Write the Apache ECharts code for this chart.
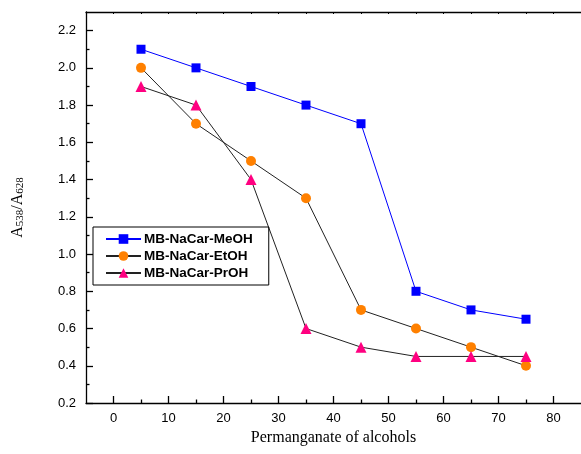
<!DOCTYPE html>
<html>
<head>
<meta charset="utf-8">
<script src="https://cdn.jsdelivr.net/npm/echarts@6/dist/echarts.min.js"></script>
<style>
  html, body { margin: 0; padding: 0; background: #fff; }
  #chart { width: 581px; height: 454px; }
</style>
</head>
<body>
<div id="chart"></div>
<script>
// Absorbance ratio A538/A628 against alcohol proportion
const xValues = [5, 15, 25, 35, 45, 55, 65, 75];
const meohValues = [2.1, 2.0, 1.9, 1.8, 1.7, 0.8, 0.7, 0.65];
const etohValues = [2.0, 1.7, 1.5, 1.3, 0.7, 0.6, 0.5, 0.4];
const prohValues = [1.9, 1.8, 1.4, 0.6, 0.5, 0.45, 0.45, 0.45];
const seriesNames = ['MB-NaCar-MeOH', 'MB-NaCar-EtOH', 'MB-NaCar-PrOH'];
const xTickLabels = [0, 10, 20, 30, 40, 50, 60, 70, 80];
const xMinorTicks = [5, 15, 25, 35, 45, 55, 65, 75];
const xTopTicks = [0, 5, 10, 15, 20, 25, 30, 35, 40, 45, 50, 55, 60, 65, 70, 75, 80];
const yTickLabels = [0.2, 0.4, 0.6, 0.8, 1.0, 1.2, 1.4, 1.6, 1.8, 2.0, 2.2];
const yMinorTicks = [0.3, 0.5, 0.7, 0.9, 1.1, 1.3, 1.5, 1.7, 1.9, 2.1];

const pair = vals => xValues.map((x, i) => [x, vals[i]]);
const tickFont = { fontFamily: 'Liberation Sans, Arial, sans-serif', fontSize: 13, color: '#000' };
const axisLineStyle = { color: '#000', width: 1.3 };
const serif = 'Liberation Serif, Times New Roman, serif';

const chart = echarts.init(document.getElementById('chart'), null, { renderer: 'canvas' });

chart.setOption({
  animation: false,
  backgroundColor: '#fff',
  grid: { left: 86, top: 12, width: 497, height: 391 },
  legend: {
    orient: 'vertical',
    left: 93,
    top: 227,
    padding: [5, 16, 5, 12],
    itemGap: 3,
    itemWidth: 35,
    itemHeight: 12,
    borderColor: '#000',
    borderWidth: 1,
    data: seriesNames,
    textStyle: {
      fontFamily: 'Liberation Sans, Arial, sans-serif',
      fontWeight: 'bold',
      fontSize: 13.5,
      color: '#000',
      lineHeight: 14,
      padding: [0, 0, 0, -2]
    }
  },
  xAxis: [
    {
      type: 'value', min: -5, max: 85, position: 'bottom',
      name: 'Permanganate of alcohols', nameLocation: 'middle', nameGap: 27,
      nameTextStyle: { fontFamily: serif, fontSize: 16, color: '#000' },
      axisLine: { show: true, onZero: false, lineStyle: axisLineStyle },
      axisTick: { show: true, inside: true, length: 7, customValues: xTickLabels, lineStyle: { color: '#000', width: 1.3 } },
      axisLabel: { show: true, margin: 9, customValues: xTickLabels, ...tickFont },
      splitLine: { show: false }
    },
    {
      type: 'value', min: -5, max: 85, position: 'bottom',
      axisLine: { show: false, onZero: false },
      axisTick: { show: true, inside: true, length: 3.5, customValues: xMinorTicks, lineStyle: { color: '#000', width: 1.3 } },
      axisLabel: { show: false },
      splitLine: { show: false }
    },
    {
      type: 'value', min: -5, max: 85, position: 'top',
      axisLine: { show: true, onZero: false, lineStyle: axisLineStyle },
      axisTick: { show: true, inside: true, length: 2, customValues: xTopTicks, lineStyle: { color: '#000', width: 1 } },
      axisLabel: { show: false },
      splitLine: { show: false }
    }
  ],
  yAxis: [
    {
      type: 'value', min: 0.2, max: 2.3, position: 'left',
      name: '{a|A}{s|538}{a|/A}{s|628}', nameLocation: 'middle', nameGap: 60, nameRotate: 90,
      nameTextStyle: {
        rich: {
          a: { fontFamily: serif, fontSize: 16, color: '#000', verticalAlign: 'bottom', lineHeight: 20 },
          s: { fontFamily: serif, fontSize: 11, color: '#000', verticalAlign: 'bottom', lineHeight: 16 }
        }
      },
      axisLine: { show: true, onZero: false, lineStyle: axisLineStyle },
      axisTick: { show: true, inside: true, length: 7, customValues: yTickLabels, lineStyle: { color: '#000', width: 1.3 } },
      axisLabel: { show: true, margin: 10, customValues: yTickLabels, formatter: v => v.toFixed(1), ...tickFont },
      splitLine: { show: false }
    },
    {
      type: 'value', min: 0.2, max: 2.3, position: 'left',
      axisLine: { show: false, onZero: false },
      axisTick: { show: true, inside: true, length: 3.5, customValues: yMinorTicks, lineStyle: { color: '#000', width: 1.3 } },
      axisLabel: { show: false },
      splitLine: { show: false }
    }
  ],
  series: [
    {
      name: seriesNames[0], type: 'line', data: pair(meohValues),
      symbol: 'rect', symbolSize: 9,
      lineStyle: { color: '#0000ff', width: 1 },
      itemStyle: { color: '#0000ff' }
    },
    {
      name: seriesNames[1], type: 'line', data: pair(etohValues),
      symbol: 'circle', symbolSize: 10,
      lineStyle: { color: '#222', width: 1 },
      itemStyle: { color: '#ff8000' }
    },
    {
      name: seriesNames[2], type: 'line', data: pair(prohValues),
      symbol: 'triangle', symbolSize: 11,
      lineStyle: { color: '#222', width: 1 },
      itemStyle: { color: '#ff0080' }
    }
  ]
});
</script>
</body>
</html>
